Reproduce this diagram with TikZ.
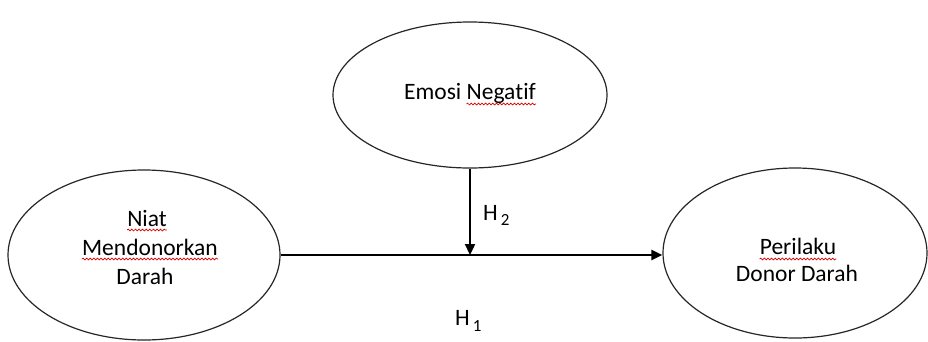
\documentclass[tikz,border=0pt]{standalone}
\usepackage{fontspec}
\setmainfont{Carlito}[Ligatures=NoCommon]
\usetikzlibrary{shapes.geometric,arrows.meta,decorations.pathmorphing}
\begin{document}
\begin{tikzpicture}[x=1pt,y=-1pt,
  bubble/.style={draw=black!85, line width=1.2pt, ellipse, inner sep=0pt, fill=white},
  txt/.style={inner sep=0pt, font=\fontsize{23.5}{28}\selectfont, text=black},
  arr/.style={line width=2.3pt, -{Triangle[length=11pt,width=10pt]}},
  squig/.style={draw=red!85!black, line width=0.7pt, decorate,
    decoration={snake, amplitude=0.9pt, segment length=3.6pt}}
]
\useasboundingbox (0,0) rectangle (928,341);

% ellipses
\node[bubble, minimum width=274pt, minimum height=146pt] (emo) at (470,95) {};
\node[bubble, minimum width=272pt, minimum height=170pt] (niat) at (144,255) {};
\node[bubble, minimum width=264pt, minimum height=170pt] (peri) at (795,253) {};

% texts
\node[txt, anchor=base] (t1) at (470,99) {Emosi Nega\kern0pt tif};
\node[txt, anchor=base east] (neg) at (t1.base east) {\phantom{Nega\kern0pt tif}};

\node[txt, anchor=base] (n1) at (147,226) {Niat};
\node[txt, anchor=base] (n2) at (150,255) {Mendonorkan};
\node[txt, anchor=base] (n3) at (145,284) {Darah};

\node[txt, anchor=base] (p1) at (798,254) {Perilaku};
\node[txt, anchor=base] (p2) at (797,281) {Donor Darah};

% spell-check squiggles
\draw[squig] ([yshift=-5pt]neg.base west) -- ([yshift=-5pt]neg.base east);
\draw[squig] ([yshift=-4pt]n1.base west) -- ([yshift=-4pt]n1.base east);
\draw[squig] ([yshift=-4pt]n2.base west) -- ([yshift=-4pt]n2.base east);
\draw[squig] ([yshift=-5pt]p1.base west) -- ([yshift=-5pt]p1.base east);

% connectors
\coordinate (m) at (emo.south |- niat.east);
\draw[arr] (niat.east) -- (niat.east -| peri.west);
\draw[arr] (emo.south) -- (m);

% labels
\node[txt, anchor=base west] (h2) at (483,220) {H\hspace{3pt}\raisebox{-5pt}{\fontsize{17}{17}\selectfont 2}};
\node[txt, anchor=base west] (h1) at (455,325) {H\hspace{3pt}\raisebox{-6pt}{\fontsize{17}{17}\selectfont 1}};
\end{tikzpicture}
\end{document}
